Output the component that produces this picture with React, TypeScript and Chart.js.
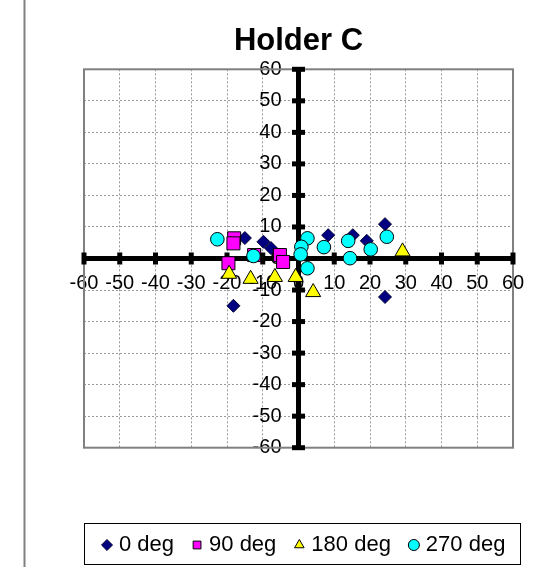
import React, { useEffect, useRef } from "react";
import { Chart, registerables } from "chart.js";

Chart.register(...registerables);

// ---- data ----
const chartTitle = "Holder C";
const seriesNames = ["0 deg", "90 deg", "180 deg", "270 deg"];

const deg0X = [-15, -18.2, -9.8, -7.7, 8.3, 15.2, 19.1, 24.2, 24.2];
const deg0Y = [6.5, -15, 5.3, 3.3, 7.4, 7.4, 5.6, 10.9, -12.2];

const deg90X = [-18, -18.2, -19.6, -12.4, -5.2, -4.3];
const deg90Y = [6.4, 4.8, -1.5, 1.1, 1.1, -1.1];

const deg180X = [-19.4, -13.4, -6.6, -0.8, 4.1, 29.1];
const deg180Y = [-4.9, -6.5, -5.9, -5.9, -10.7, 2.2];

const deg270X = [-22.7, -12.6, 2.5, 0.8, 0.6, 2.5, 7.1, 13.9, 14.4, 20.2, 24.7];
const deg270Y = [6.1, 0.8, 6.4, 3.7, 1.3, -3.1, 3.6, 5.6, 0.1, 2.9, 6.9];

const AXIS_MIN = -60;
const AXIS_MAX = 60;
const AXIS_STEP = 10;

const FONT = "'Liberation Sans', Arial, sans-serif";

function pts(xs: number[], ys: number[]) {
  return xs.map((x, i) => ({ x, y: ys[i] }));
}

export default function App() {
  const ref = useRef<HTMLCanvasElement>(null);

  useEffect(() => {
    const canvas = ref.current;
    if (!canvas) return;

    const decor = {
      id: "decor",
      beforeDatasetsDraw(chart: any) {
        const { ctx, chartArea: a, scales } = chart;
        const xs = scales.x;
        const ys = scales.y;
        ctx.save();
        ctx.strokeStyle = "#808080";
        ctx.lineWidth = 2;
        ctx.strokeRect(a.left, a.top, a.right - a.left, a.bottom - a.top);
        ctx.fillStyle = "#000";
        const x0 = xs.getPixelForValue(0);
        const y0 = ys.getPixelForValue(0);
        xs.ticks.forEach((t: any) => {
          if (t.value === 0) return;
          const px = xs.getPixelForValue(t.value);
          ctx.fillRect(px - 2.5, y0 - 6, 5, 12);
        });
        ys.ticks.forEach((t: any) => {
          if (t.value === 0) return;
          const py = ys.getPixelForValue(t.value);
          ctx.fillRect(x0 - 6.5, py - 2.5, 13, 5);
        });
        ctx.restore();
      },
      afterDraw(chart: any) {
        const { ctx, chartArea: a, height } = chart;
        ctx.save();
        ctx.fillStyle = "#808080";
        ctx.fillRect(23.5, 0, 2, height);
        const lg = chart.legend;
        if (lg && lg.legendHitBoxes && lg.legendHitBoxes.length) {
          const hb = lg.legendHitBoxes[0];
          const top = hb.top - 11;
          const bottom = hb.top + hb.height + 8;
          ctx.strokeStyle = "#000";
          ctx.lineWidth = 1;
          ctx.strokeRect(Math.round(a.left) + 0.5, Math.round(top) + 0.5, Math.round(a.right + 7 - a.left), Math.round(bottom - top));
        }
        ctx.restore();
      },
    };

    const gridColor = (c: any) => {
      const v = c.tick ? c.tick.value : null;
      if (v === 0 || v === AXIS_MIN || v === AXIS_MAX) return "rgba(0,0,0,0)";
      return "#9a9a9a";
    };

    const chart = new Chart(canvas, {
      type: "scatter",
      data: {
        datasets: [
          {
            label: seriesNames[0],
            data: pts(deg0X, deg0Y),
            pointStyle: "rectRot",
            pointRadius: 6.5,
            pointHoverRadius: 6.5,
            backgroundColor: "#000080",
            borderColor: "#000033",
            borderWidth: 1,
            order: 3,
          },
          {
            label: seriesNames[1],
            data: pts(deg90X, deg90Y),
            pointStyle: "rect",
            pointRadius: 9.2,
            pointHoverRadius: 9.2,
            backgroundColor: "#FF00FF",
            borderColor: "#000000",
            borderWidth: 1,
            order: 2,
          },
          {
            label: seriesNames[2],
            data: pts(deg180X, deg180Y),
            pointStyle: "triangle",
            pointRadius: 8.7,
            pointHoverRadius: 8.7,
            backgroundColor: "#FFFF00",
            borderColor: "#000000",
            borderWidth: 1,
            order: 1,
          },
          {
            label: seriesNames[3],
            data: pts(deg270X, deg270Y),
            pointStyle: "circle",
            pointRadius: 6.8,
            pointHoverRadius: 6.8,
            backgroundColor: "#00FFFF",
            borderColor: "#000000",
            borderWidth: 1,
            order: 0,
          },
        ],
      },
      options: {
        animation: false,
        responsive: false,
        maintainAspectRatio: false,
        events: [],
        layout: { padding: { left: 84, right: 0, top: 0, bottom: 1 } },
        scales: {
          x: {
            type: "linear",
            position: { y: 0 } as any,
            min: AXIS_MIN,
            max: AXIS_MAX,
            afterFit: (s: any) => {
              s.height = 0;
              s.paddingLeft = 0;
              s.paddingRight = 35;
            },
            ticks: {
              stepSize: AXIS_STEP,
              autoSkip: false,
              maxRotation: 0,
              padding: 13,
              color: "#000",
              font: { family: FONT, size: 20 },
            },
            grid: { color: gridColor, lineWidth: 1, drawTicks: false },
            border: { display: true, color: "#000", width: 5, dash: [2, 2] },
          },
          y: {
            type: "linear",
            position: "center",
            min: AXIS_MIN,
            max: AXIS_MAX,
            afterFit: (s: any) => {
              s.width = 0;
            },
            ticks: {
              stepSize: AXIS_STEP,
              autoSkip: false,
              padding: 17,
              color: "#000",
              font: { family: FONT, size: 20 },
            },
            grid: { color: gridColor, lineWidth: 1, drawTicks: false },
            border: { display: true, color: "#000", width: 5, dash: [2, 2] },
          },
        },
        plugins: {
          title: {
            display: true,
            text: chartTitle,
            color: "#000",
            fullSize: false,
            font: { family: FONT, size: 31, weight: "bold" },
            padding: { top: 22.4, bottom: 9.7 },
          },
          subtitle: {
            display: true,
            text: "",
            position: "bottom",
            weight: 500,
            font: { size: 1, lineHeight: 1 },
            padding: { top: 63.3, bottom: 0 },
          },
          legend: {
            display: true,
            position: "bottom",
            align: "start",
            fullSize: true,
            weight: 1000,
            labels: {
              usePointStyle: true,
              boxWidth: 2,
              boxHeight: 7.8,
              padding: 22,
              color: "#000",
              font: { family: FONT, size: 22 },
              sort: (a: any, b: any) => a.datasetIndex - b.datasetIndex,
            },
          },
          tooltip: { enabled: false },
        },
      },
      plugins: [decor],
    } as any);

    return () => {
      chart.destroy();
    };
  }, []);

  return (
    <div style={{ position: "fixed", left: 0, top: 0, width: 548, height: 567, background: "#fff" }}>
      <canvas ref={ref} width={548} height={567} style={{ display: "block" }} />
    </div>
  );
}
